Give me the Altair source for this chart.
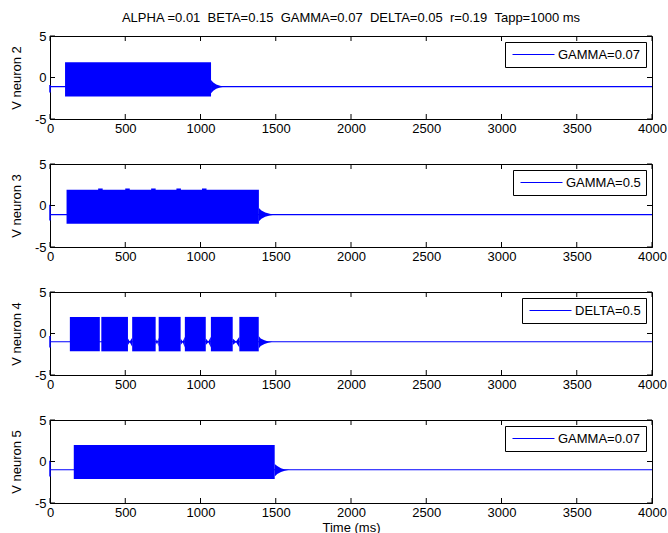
import altair as alt
import pandas as pd

FONT = "Liberation Sans"
BLUE = "#0000ff"
W, H = 602, 83

# axes
x_ticks = [0, 500, 1000, 1500, 2000, 2500, 3000, 3500, 4000]
y_ticks = [-5, 0, 5]

# one panel per neuron
panel_titles = ["V neuron 2", "V neuron 3", "V neuron 4", "V neuron 5"]
legend_labels = ["GAMMA=0.07", "GAMMA=0.5", "DELTA=0.5", "GAMMA=0.07"]
rest_levels = [-1.1, -1.1, -1.0, -1.0]

# transient at t = 0
onset_low = [-1.8, -1.8, -1.7, -1.8]
onset_high = [-0.9, 0.1, -0.3, 0.1]

# spiking bursts (envelope of the fast oscillation)
burst_on = [[100], [110], [132, 341, 546, 722, 896, 1069, 1258], [158]]
burst_off = [[1070], [1388], [331, 518, 702, 868, 1035, 1214, 1387], [1493]]
burst_top = [1.85, 1.9, 2.0, 2.0]
burst_bottom = [-2.3, -2.2, -2.15, -2.1]

# taller spikes riding on the neuron 3 plateau
peak_on = [[], [320, 500, 672, 840, 1010], [], []]
peak_off = [[], [350, 530, 702, 870, 1040], [], []]
peak_top = [0.0, 2.05, 0.0, 0.0]

# damped ringing after the last burst
tail_t = [[1070, 1085, 1105, 1130, 1155],
          [1388, 1405, 1430, 1460, 1490],
          [1387, 1400, 1425, 1450, 1480],
          [1493, 1510, 1535, 1560, 1590]]
tail_hi = [[-0.3, -0.6, -0.85, -1.0, -1.1],
           [-0.3, -0.6, -0.85, -1.0, -1.1],
           [-0.3, -0.6, -0.8, -0.95, -1.0],
           [-0.3, -0.55, -0.8, -0.95, -1.0]]
tail_lo = [[-1.9, -1.6, -1.35, -1.2, -1.1],
           [-1.9, -1.6, -1.35, -1.2, -1.1],
           [-1.8, -1.5, -1.25, -1.1, -1.0],
           [-1.8, -1.5, -1.25, -1.1, -1.0]]

# subthreshold spindles between the neuron 4 bursts
gap_t = [[518, 530, 546], [702, 712, 722], [868, 882, 896], [1035, 1052, 1069], [1214, 1236, 1258]]
gap_hi = [[-0.6, -0.95, -0.5], [-0.6, -0.95, -0.5], [-0.6, -0.95, -0.4], [-0.6, -0.95, -0.4], [-0.6, -0.95, -0.4]]
gap_lo = [[-1.4, -1.05, -1.6], [-1.4, -1.05, -1.6], [-1.4, -1.05, -1.7], [-1.4, -1.05, -1.7], [-1.4, -1.05, -1.7]]

TITLE = "ALPHA =0.01\u00a0\u00a0BETA=0.15\u00a0\u00a0GAMMA=0.07\u00a0\u00a0DELTA=0.05\u00a0\u00a0r=0.19\u00a0\u00a0Tapp=1000 ms"


def panel(i, last):
    xs = alt.Scale(domain=[0, 4000], nice=False, zero=False)
    ys = alt.Scale(domain=[-5, 5], nice=False, zero=False)

    x_kw = dict(values=x_ticks, ticks=False, grid=False, labelPadding=3, labelFont=FONT,
                labelFontSize=13, labelColor="black", labelFlush=False, domainColor="black",
                labelExpr="datum.value + ''")
    if last:
        x_kw.update(title="Time (ms)", titleFont=FONT, titleFontSize=13, titleFontWeight="normal",
                    titleColor="black", titlePadding=2)
    else:
        x_kw.update(title=None)
    x_axis = alt.Axis(**x_kw)
    y_axis = alt.Axis(values=y_ticks, ticks=False, grid=False, labelPadding=4, labelFont=FONT,
                      labelFontSize=13, labelColor="black", labelFlush=False, domainColor="black",
                      labelExpr="datum.value + ''", title=panel_titles[i], titleFont=FONT,
                      titleFontSize=13, titleFontWeight="normal", titleColor="black", titlePadding=11)

    def X(field):
        return alt.X(field, scale=xs, axis=x_axis)

    def Y(field):
        return alt.Y(field, scale=ys, axis=y_axis)

    label = legend_labels[i]
    rest_df = pd.DataFrame({"t": [0, 4000], "v": [rest_levels[i]] * 2, "series": [label] * 2})
    rest = alt.Chart(rest_df).mark_line(strokeWidth=1.1).encode(
        x=X("t:Q"),
        y=Y("v:Q"),
        color=alt.Color("series:N", scale=alt.Scale(domain=[label], range=[BLUE]),
                        legend=alt.Legend(title=None, orient="top-right", offset=6,
                                          symbolType="M-3,0H3", symbolSize=196,
                                          symbolOffset=16, symbolStrokeWidth=1,
                                          labelFont=FONT, labelFontSize=13,
                                          labelColor="black", labelOffset=17, padding=5,
                                          labelExpr="datum.label + '\u00a0'",
                                          strokeColor="black", fillColor="white")),
    )

    bdf = pd.DataFrame({"on": burst_on[i], "off": burst_off[i],
                        "top": [burst_top[i]] * len(burst_on[i]),
                        "bottom": [burst_bottom[i]] * len(burst_on[i])})
    bursts = alt.Chart(bdf).mark_rect(color=BLUE).encode(
        x=X("on:Q"), x2="off:Q", y=Y("top:Q"), y2="bottom:Q")

    layers = [rest, bursts]

    if peak_on[i]:
        pdf = pd.DataFrame({"on": peak_on[i], "off": peak_off[i],
                            "top": [peak_top[i]] * len(peak_on[i]),
                            "bottom": [0.0] * len(peak_on[i])})
        layers.append(alt.Chart(pdf).mark_rect(color=BLUE).encode(
            x=X("on:Q"), x2="off:Q", y=Y("top:Q"), y2="bottom:Q"))

    rows = []
    for t, hi, lo in zip(tail_t[i], tail_hi[i], tail_lo[i]):
        rows.append({"seg": "tail", "t": t, "hi": hi, "lo": lo})
    if i == 2:
        for k in range(len(gap_t)):
            for t, hi, lo in zip(gap_t[k], gap_hi[k], gap_lo[k]):
                rows.append({"seg": f"gap{k}", "t": t, "hi": hi, "lo": lo})
    layers.append(alt.Chart(pd.DataFrame(rows)).mark_area(color=BLUE, interpolate="linear").encode(
        x=X("t:Q"), y=Y("hi:Q"), y2="lo:Q", detail="seg:N"))

    odf = pd.DataFrame({"t": [0], "lo": [onset_low[i]], "hi": [onset_high[i]]})
    layers.append(alt.Chart(odf).mark_rule(color=BLUE, strokeWidth=1.5).encode(
        x=X("t:Q"), y=Y("lo:Q"), y2="hi:Q"))

    # inward tick marks on all four sides
    xt = pd.DataFrame({"t": x_ticks})
    yt = pd.DataFrame({"v": y_ticks})
    layers.append(alt.Chart(xt).mark_rule(color="black").encode(
        x=X("t:Q"), y=alt.value(0), y2=alt.value(5)))
    layers.append(alt.Chart(xt).mark_rule(color="black").encode(
        x=X("t:Q"), y=alt.value(H - 5), y2=alt.value(H)))
    layers.append(alt.Chart(yt).mark_rule(color="black").encode(
        y=Y("v:Q"), x=alt.value(0), x2=alt.value(5)))
    layers.append(alt.Chart(yt).mark_rule(color="black").encode(
        y=Y("v:Q"), x=alt.value(W - 5), x2=alt.value(W)))

    return alt.layer(*layers).properties(width=W, height=H)


panels = [panel(i, i == 3) for i in range(4)]

chart = alt.vconcat(*panels, spacing=45, bounds="flush").resolve_scale(
    color="independent"
).resolve_legend(color="independent").properties(
    title=alt.TitleParams(TITLE, font=FONT, fontSize=13, fontWeight="normal", color="black",
                          anchor="middle", frame="group", offset=5),
    padding={"left": 9, "top": 11, "right": 0, "bottom": 0},
    background="white",
).configure_view(stroke="black", strokeWidth=1)

chart.save("out.html", embed_options={"renderer": "svg", "actions": False})
